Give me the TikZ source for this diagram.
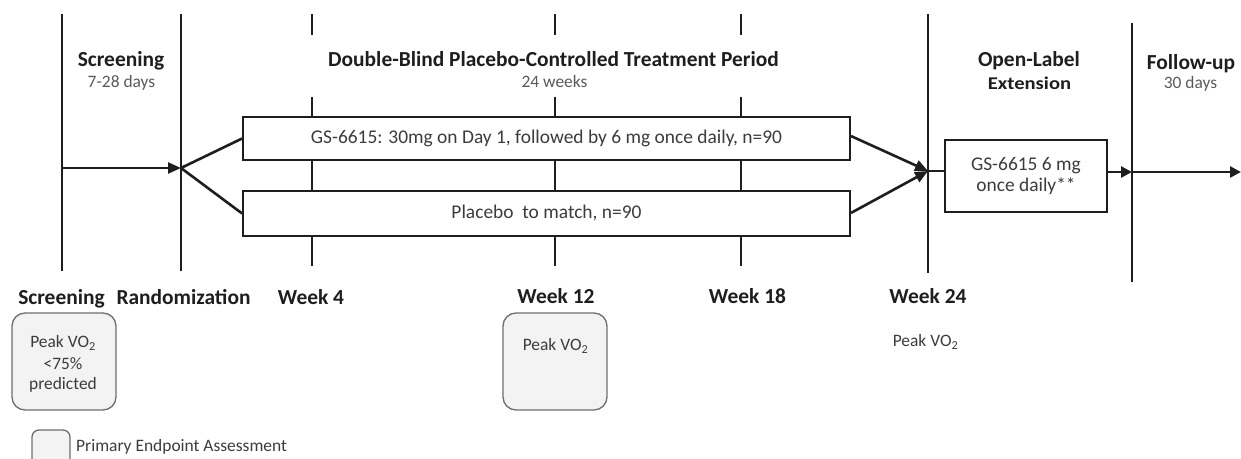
\documentclass[tikz,border=0pt]{standalone}
\usepackage{fontspec}
\setmainfont{Carlito}
\usetikzlibrary{arrows.meta}
\definecolor{ink}{HTML}{1E1E1E}
\definecolor{txt}{HTML}{3C3C3C}
\definecolor{sub}{HTML}{5A5A5A}
\definecolor{pefill}{HTML}{F3F3F3}
\definecolor{pedraw}{HTML}{6E6E6E}
\begin{document}
\begin{tikzpicture}[x=1bp,y=-1bp,
  vline/.style={draw=ink,line width=1.8bp},
  flow/.style={draw=ink,line width=2.6bp},
  arr/.style={flow,-{Triangle[length=13bp,width=11bp]}},
  armbox/.style={draw=ink,line width=1.8bp,fill=white,minimum width=607bp,inner sep=0pt,font=\fontsize{19.5}{23}\selectfont,text=txt},
  ttl/.style={font=\bfseries\fontsize{21.5}{25}\selectfont,text=ink,anchor=base,inner sep=0pt},
  subt/.style={font=\fontsize{17.5}{21}\selectfont,text=sub,anchor=base,inner sep=0pt},
  ptxt/.style={font=\fontsize{17.5}{21}\selectfont,text=txt,anchor=base,inner sep=0pt},
  pebox/.style={draw=pedraw,fill=pefill,rounded corners=13bp,line width=1.3bp,inner sep=0pt}
]
\useasboundingbox (0,0) rectangle (1241,459);

% time-point lines
\draw[vline] (62,14) -- (62,271);
\draw[vline] (181,14) -- (181,271);
\foreach \x in {312,555,741} \draw[vline] (\x,14) -- (\x,266);
\draw[vline] (928,14) -- (928,273);
\draw[vline] (1132,23) -- (1132,282);

% period titles
\node[fill=white,minimum width=520bp,minimum height=62bp,inner sep=0pt] (dbmask) at (553,66) {};
\node[ttl] (tscr) at (121,67) {Screening};
\node[subt] (tscrd) at (121.5,88) {7-28 days};
\node[ttl] (tdb) at (553.5,67) {Double-Blind Placebo-Controlled Treatment Period};
\node[subt] (tdbd) at (554.5,88) {24 weeks};
\node[ttl] (tole) at (1029,67) {Open-Label};
\node[ttl,font=\bfseries\fontsize{18}{21}\selectfont,xscale=1.15] (tolex) at (1029.5,90) {Extension};
\node[ttl] (tfu) at (1191,70) {Follow-up};
\node[subt] (tfud) at (1190.5,89) {30 days};

% treatment arms
\node[armbox,minimum height=43bp] (arm1) at (546.5,138.5) {GS-6615: 30mg on Day 1, followed by 6 mg once daily, n=90};
\node[armbox,minimum height=45bp] (arm2) at (546.5,213.5) {Placebo~ to match, n=90};
\node[draw=ink,line width=1.8bp,fill=white,minimum width=162bp,minimum height=72bp,inner sep=0pt,
      align=center,font=\fontsize{19.5}{21}\selectfont,text=txt] (ole) at (1026,176) {GS-6615 6 mg\\once daily**};

\coordinate (scr) at (62,168);
\coordinate (rand) at (181,168);
\coordinate (w24) at (928,171);
\coordinate (fu) at (1132,172);
\coordinate (endpt) at (1241,172);

\draw[arr] (scr) -- (rand);
\draw[flow] (rand) -- (arm1.west);
\draw[flow] (rand) -- (arm2.west);
\draw[arr] ([yshift=1bp]arm1.north east |- 0,137) -- (w24);
\draw[arr] ([yshift=-1bp]arm2.north east |- 0,212) -- (w24);
\draw[flow] (w24) -- (ole.west |- w24);
\draw[arr,-{Triangle[length=11bp,width=11bp]}] (ole.east |- fu) -- (fu);
\draw[arr,-{Triangle[length=11bp,width=11bp]}] (fu) -- (endpt);

% time-point labels
\node[ttl] (lscr) at (61.5,305) {Screening};
\node[ttl] (lrand) at (183.5,305) {Randomization};
\node[ttl] (lw4) at (311,305) {Week 4};
\node[ttl] (lw12) at (556,304) {Week 12};
\node[ttl] (lw18) at (747.5,304) {Week 18};
\node[ttl] (lw24) at (928,304) {Week 24};

% assessments
\node[pebox,minimum width=104bp,minimum height=97bp] (pe1) at (64,361.5) {};
\node[ptxt] at (63,348) {Peak VO\textsubscript{2}};
\node[ptxt] at (63,369.5) {<75\%};
\node[ptxt] at (63,390) {predicted};
\node[pebox,minimum width=104bp,minimum height=97bp] (pe2) at (555,361.5) {};
\node[ptxt] at (555.5,351) {Peak VO\textsubscript{2}};
\node[ptxt] (pe3) at (925.5,347) {Peak VO\textsubscript{2}};

% legend
\node[pebox,rounded corners=7bp,minimum width=38bp,minimum height=44bp] (leg) at (51,452) {};
\node[ptxt,anchor=base west] (legt) at (76,452) {Primary Endpoint Assessment};
\end{tikzpicture}
\end{document}
